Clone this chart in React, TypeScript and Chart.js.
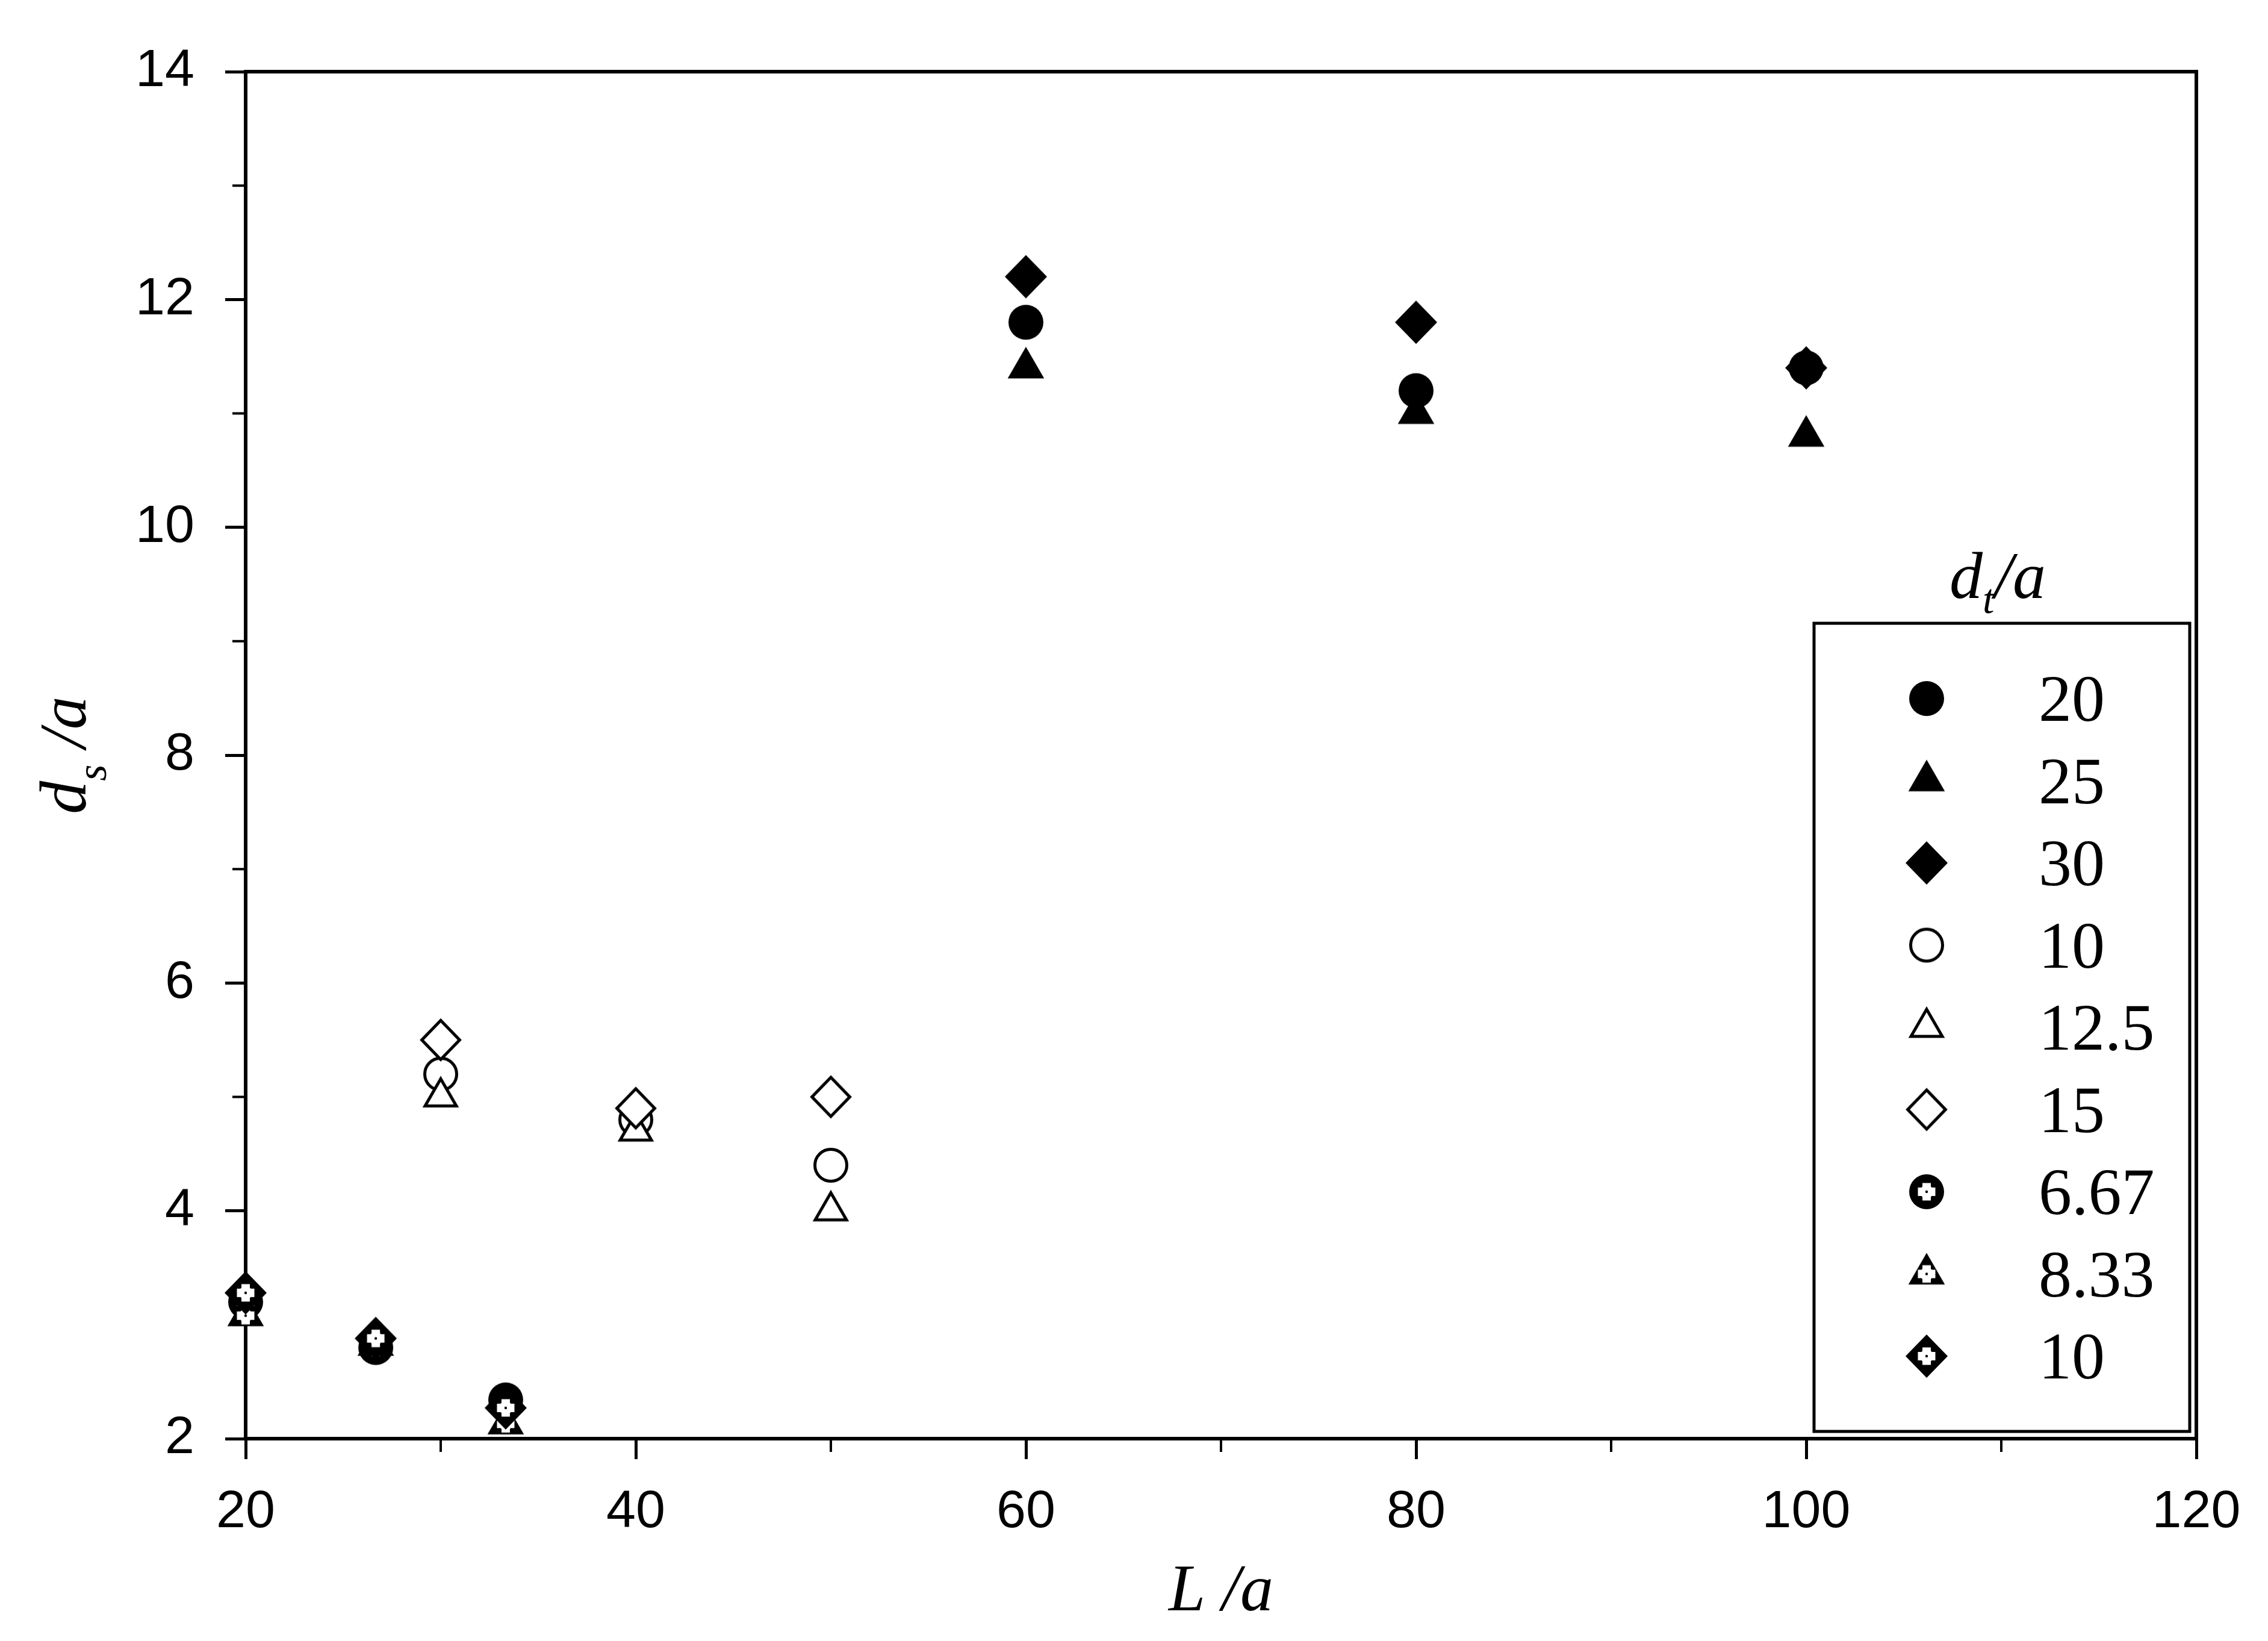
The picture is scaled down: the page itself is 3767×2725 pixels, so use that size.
import React, { useEffect, useRef } from 'react';
import { Chart, registerables } from 'chart.js';

Chart.register(...registerables);

const CANVAS_W = 3767;
const CANVAS_H = 2725;

// ---- data ----
const filledX = [60, 80, 100];
const openX = [30, 40, 50];
const dottedX = [20, 26.67, 33.33];

const dt20 = [11.8, 11.2, 11.4];
const dt25 = [11.4, 11.0, 10.8];
const dt30 = [12.2, 11.8, 11.4];
const dt10 = [5.2, 4.8, 4.4];
const dt12_5 = [5.0, 4.7, 4.0];
const dt15 = [5.5, 4.9, 5.0];
const dt6_67 = [3.2, 2.8, 2.34];
const dt8_33 = [3.08, 2.82, 2.13];
const dt10b = [3.28, 2.88, 2.27];

const seriesLabels = ['20', '25', '30', '10', '12.5', '15', '6.67', '8.33', '10'];

const xMajorTicks = [20, 40, 60, 80, 100, 120];
const xMinorTicks = [30, 50, 70, 90, 110];
const yMajorTicks = [2, 4, 6, 8, 10, 12, 14];
const yMinorTicks = [3, 5, 7, 9, 11, 13];

const xTitle = 'L /a';
const yTitleMain = 'd';
const yTitleSub = 's';
const yTitleRest = ' /a';
const legendTitleMain = 'd';
const legendTitleSub = 't';
const legendTitleRest = '/a';

// ---- styling ----
const SANS = '"Liberation Sans", Arial, sans-serif';
const SERIF = '"Liberation Serif", "Times New Roman", serif';

type Shape = 'circle' | 'triangle' | 'diamond';
type FillKind = 'solid' | 'open' | 'dotted';

function makeMarker(shape: Shape, kind: FillKind): HTMLCanvasElement {
  const S = 90;
  const c = document.createElement('canvas');
  c.width = S;
  c.height = S;
  const g = c.getContext('2d')!;
  const cx = S / 2;
  const cy = S / 2;
  const lw = kind === 'open' ? 5 : 0;
  g.beginPath();
  if (shape === 'circle') {
    g.arc(cx, cy, 29 - lw / 2, 0, Math.PI * 2);
  } else if (shape === 'triangle') {
    const r = 35 - lw;
    const hx = r * Math.cos(Math.PI / 6);
    g.moveTo(cx, cy - r);
    g.lineTo(cx + hx, cy + r / 2);
    g.lineTo(cx - hx, cy + r / 2);
    g.closePath();
  } else {
    const rx = 35 - lw * 0.72;
    const ry = 36 - lw * 0.72;
    g.moveTo(cx, cy - ry);
    g.lineTo(cx + rx, cy);
    g.lineTo(cx, cy + ry);
    g.lineTo(cx - rx, cy);
    g.closePath();
  }
  if (kind === 'open') {
    g.fillStyle = '#fff';
    g.fill();
    g.lineWidth = lw;
    g.strokeStyle = '#000';
    g.lineJoin = 'miter';
    g.stroke();
  } else {
    g.fillStyle = '#000';
    g.fill();
  }
  if (kind === 'dotted') {
    g.fillStyle = '#fff';
    g.beginPath();
    g.arc(cx, cy, 11, 0, Math.PI * 2);
    g.fill();
    g.fillRect(cx - 14.5, cy - 7, 29, 14);
    g.fillRect(cx - 7, cy - 14.5, 14, 29);
    g.fillStyle = '#000';
    g.beginPath();
    g.arc(cx, cy, 2.2, 0, Math.PI * 2);
    g.fill();
  }
  return c;
}

export default function App() {
  const ref = useRef<HTMLCanvasElement>(null);

  useEffect(() => {
    const canvas = ref.current!;
    const series = [
      { label: seriesLabels[0], xs: filledX, ys: dt20, style: makeMarker('circle', 'solid'), order: 2 },
      { label: seriesLabels[1], xs: filledX, ys: dt25, style: makeMarker('triangle', 'solid'), order: 1 },
      { label: seriesLabels[2], xs: filledX, ys: dt30, style: makeMarker('diamond', 'solid'), order: 0 },
      { label: seriesLabels[3], xs: openX, ys: dt10, style: makeMarker('circle', 'open'), order: 2 },
      { label: seriesLabels[4], xs: openX, ys: dt12_5, style: makeMarker('triangle', 'open'), order: 1 },
      { label: seriesLabels[5], xs: openX, ys: dt15, style: makeMarker('diamond', 'open'), order: 0 },
      { label: seriesLabels[6], xs: dottedX, ys: dt6_67, style: makeMarker('circle', 'dotted'), order: 2 },
      { label: seriesLabels[7], xs: dottedX, ys: dt8_33, style: makeMarker('triangle', 'dotted'), order: 1 },
      { label: seriesLabels[8], xs: dottedX, ys: dt10b, style: makeMarker('diamond', 'dotted'), order: 0 },
    ];

    const decorPlugin = {
      id: 'decor',
      beforeDatasetsDraw(chart: any) {
        const { ctx, chartArea: a, scales } = chart;
        const xs = scales.x;
        const ys = scales.y;
        ctx.save();
        ctx.strokeStyle = '#000';
        ctx.lineWidth = 6;
        ctx.lineCap = 'square';
        ctx.beginPath();
        ctx.moveTo(a.left, a.top);
        ctx.lineTo(a.right, a.top);
        ctx.lineTo(a.right, a.bottom);
        ctx.stroke();
        ctx.lineCap = 'butt';
        ctx.lineWidth = 4;
        ctx.beginPath();
        for (const v of xMinorTicks) {
          const px = xs.getPixelForValue(v);
          ctx.moveTo(px, a.bottom);
          ctx.lineTo(px, a.bottom + 22);
        }
        for (const v of yMinorTicks) {
          const py = ys.getPixelForValue(v);
          ctx.moveTo(a.left, py);
          ctx.lineTo(a.left - 22, py);
        }
        ctx.stroke();

        // x title
        ctx.fillStyle = '#000';
        ctx.font = `italic 110px ${SERIF}`;
        ctx.textAlign = 'center';
        ctx.textBaseline = 'alphabetic';
        ctx.fillText(xTitle, (a.left + a.right) / 2, 2674);

        // y title (rotated, with subscript)
        ctx.save();
        ctx.translate(142, (a.top + a.bottom) / 2);
        ctx.rotate(-Math.PI / 2);
        ctx.textAlign = 'left';
        const mainFont = `italic 110px ${SERIF}`;
        const subFont = `italic 70px ${SERIF}`;
        ctx.font = mainFont;
        const w1 = ctx.measureText(yTitleMain).width;
        const w3 = ctx.measureText(yTitleRest).width;
        ctx.font = subFont;
        const w2 = ctx.measureText(yTitleSub).width;
        let x0 = -(w1 + w2 + w3) / 2;
        ctx.font = mainFont;
        ctx.fillText(yTitleMain, x0, 0);
        x0 += w1;
        ctx.font = subFont;
        ctx.fillText(yTitleSub, x0, 34);
        x0 += w2;
        ctx.font = mainFont;
        ctx.fillText(yTitleRest, x0, 0);
        ctx.restore();
        ctx.restore();
      },
      afterDraw(chart: any) {
        const { ctx } = chart;
        const L = { left: 3013, top: 1035, right: 3637, bottom: 2377, markerX: 3200, rowY: 1160, gap: 136.5, textX: 3386 };
        ctx.save();
        ctx.strokeStyle = '#000';
        ctx.lineWidth = 5;
        ctx.strokeRect(L.left, L.top, L.right - L.left, L.bottom - L.top);
        // legend title
        const mainFont = `italic 110px ${SERIF}`;
        const subFont = `italic 70px ${SERIF}`;
        ctx.fillStyle = '#000';
        ctx.textBaseline = 'alphabetic';
        ctx.textAlign = 'left';
        ctx.font = mainFont;
        const w1 = ctx.measureText(legendTitleMain).width;
        const w3 = ctx.measureText(legendTitleRest).width;
        ctx.font = subFont;
        const w2 = ctx.measureText(legendTitleSub).width;
        let x0 = 3318 - (w1 + w2 + w3) / 2;
        ctx.font = mainFont;
        ctx.fillText(legendTitleMain, x0, 993);
        x0 += w1;
        ctx.font = subFont;
        ctx.fillText(legendTitleSub, x0, 1018);
        x0 += w2;
        ctx.font = mainFont;
        ctx.fillText(legendTitleRest, x0, 993);
        // rows
        ctx.font = `110px ${SERIF}`;
        series.forEach((s, i) => {
          const cy = L.rowY + i * L.gap;
          const img = s.style;
          ctx.drawImage(img, L.markerX - img.width / 2, cy - img.height / 2);
          ctx.fillText(s.label, L.textX, cy + 37);
        });
        ctx.restore();
      },
    };

    const chart = new Chart(canvas, {
      type: 'scatter',
      data: {
        datasets: series.map((s) => ({
          label: s.label,
          data: s.xs.map((x, i) => ({ x, y: s.ys[i] })),
          pointStyle: s.style as any,
          pointRadius: 30,
          pointHoverRadius: 30,
          order: s.order,
          clip: false as any,
        })),
      },
      options: {
        responsive: false,
        devicePixelRatio: 1,
        animation: false,
        events: [],
        layout: { padding: { left: 0, top: 119, right: 119, bottom: 0 } },
        plugins: { legend: { display: false }, tooltip: { enabled: false } },
        scales: {
          x: {
            type: 'linear',
            min: 20,
            max: 120,
            afterBuildTicks: (s: any) => {
              s.ticks = xMajorTicks.map((v) => ({ value: v }));
            },
            afterFit: (s: any) => {
              s.height = CANVAS_H - 2389;
            },
            grid: { display: true, drawOnChartArea: false, drawTicks: true, tickLength: 34, tickWidth: 5, tickColor: '#000', color: '#000' },
            border: { display: true, color: '#000', width: 6 },
            ticks: { font: { family: SANS, size: 88 }, color: '#000', padding: 36, maxRotation: 0, autoSkip: false },
            title: { display: false },
          },
          y: {
            type: 'linear',
            min: 2,
            max: 14,
            afterBuildTicks: (s: any) => {
              s.ticks = yMajorTicks.map((v) => ({ value: v }));
            },
            afterFit: (s: any) => {
              s.width = 408;
            },
            grid: { display: true, drawOnChartArea: false, drawTicks: true, tickLength: 34, tickWidth: 5, tickColor: '#000', color: '#000' },
            border: { display: true, color: '#000', width: 6 },
            ticks: { font: { family: SANS, size: 88 }, color: '#000', padding: 51, autoSkip: false },
            title: { display: false },
          },
        },
      },
      plugins: [decorPlugin],
    });
    return () => chart.destroy();
  }, []);

  return (
    <div style={{ position: 'fixed', left: 0, top: 0, width: CANVAS_W, height: CANVAS_H, background: '#fff' }}>
      <canvas ref={ref} width={CANVAS_W} height={CANVAS_H} style={{ width: CANVAS_W, height: CANVAS_H, display: 'block' }} />
    </div>
  );
}
